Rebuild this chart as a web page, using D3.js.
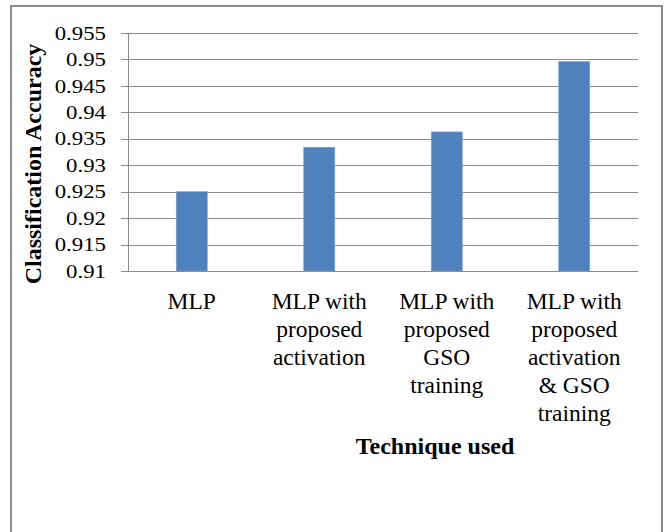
<!DOCTYPE html>
<html>
<head>
<meta charset="utf-8">
<script src="https://cdn.jsdelivr.net/npm/d3@7"></script>
<style>
body { margin: 0; background: #fff; }
</style>
</head>
<body>
<svg id="chart"></svg>
<script>
var width = 668, height = 532;
var serif = "'Liberation Serif', 'Times New Roman', serif";

// data
var categories = ["MLP", "MLP with proposed activation", "MLP with proposed GSO training", "MLP with proposed activation & GSO training"];
var categoryLines = [
	["MLP"],
	["MLP with", "proposed", "activation"],
	["MLP with", "proposed", "GSO", "training"],
	["MLP with", "proposed", "activation", "& GSO", "training"]
];
var accuracy = [0.925, 0.9334, 0.9363, 0.9496];
var yTicks = [0.91, 0.915, 0.92, 0.925, 0.93, 0.935, 0.94, 0.945, 0.95, 0.955];
var yTickLabels = ["0.91", "0.915", "0.92", "0.925", "0.93", "0.935", "0.94", "0.945", "0.95", "0.955"];

var plotLeft = 128, plotRight = 638, plotTop = 33, plotBottom = 271;

var svg = d3.select("#chart")
	.attr("width", width)
	.attr("height", height)
	.style("font-family", serif);

// chart border
svg.append("rect")
	.attr("x", 11).attr("y", 6)
	.attr("width", 651).attr("height", 540)
	.style("fill", "none")
	.style("stroke", "#8c8c8c")
	.style("stroke-width", 2);

var xScale = d3.scaleBand()
	.domain(categories)
	.range([plotLeft, plotRight])
	.paddingInner(0.757)
	.paddingOuter(0.3785);

var yScale = d3.scaleLinear()
	.domain([0.91, 0.955])
	.range([plotBottom, plotTop]);

// gridlines
svg.append("g").selectAll("line")
	.data(yTicks)
	.enter().append("line")
	.attr("x1", plotLeft - 7)
	.attr("x2", plotRight)
	.attr("y1", function(d){return Math.round(yScale(d)) + 0.5})
	.attr("y2", function(d){return Math.round(yScale(d)) + 0.5})
	.style("stroke", "#8a8a8a")
	.style("stroke-width", 1);

// y axis line
svg.append("line")
	.attr("x1", plotLeft + 0.5).attr("x2", plotLeft + 0.5)
	.attr("y1", yScale(0.955)).attr("y2", yScale(0.91))
	.style("stroke", "#8a8a8a");

// tick labels
svg.append("g").selectAll("text")
	.data(yTicks)
	.enter().append("text")
	.attr("transform", function(d){return "translate(106," + yScale(d) + ") scale(1.2,1)"})
	.attr("text-anchor", "end")
	.attr("dy", "0.35em")
	.style("font-family", serif)
	.style("font-size", "19px")
	.text(function(d, i){return yTickLabels[i]});

// bars
svg.append("g").selectAll("rect")
	.data(accuracy)
	.enter().append("rect")
	.attr("x", function(d, i){return xScale(categories[i])})
	.attr("width", xScale.bandwidth())
	.attr("y", function(d){return yScale(d)})
	.attr("height", function(d){return yScale(0.91) - yScale(d)})
	.style("fill", "#4f81bd")
	.style("stroke", "#7a9fcf")
	.style("stroke-width", 0.6);

// category labels
var catG = svg.append("g").selectAll("text")
	.data(categoryLines)
	.enter().append("text")
	.attr("text-anchor", "middle")
	.style("font-family", serif)
	.style("font-size", "23.5px")
	.attr("x", function(d, i){return xScale(categories[i]) + xScale.bandwidth()/2});

catG.selectAll("tspan")
	.data(function(d){return d})
	.enter().append("tspan")
	.attr("x", function(){return d3.select(this.parentNode).attr("x")})
	.attr("y", function(d, j){return 309 + j*28})
	.text(function(d){return d});

// axis titles
svg.append("text")
	.attr("x", 435).attr("y", 454)
	.attr("text-anchor", "middle")
	.style("font-family", serif)
	.style("font-size", "24px")
	.style("font-weight", "bold")
	.text("Technique used");

svg.append("text")
	.attr("transform", "translate(41,164) rotate(-90)")
	.attr("text-anchor", "middle")
	.style("font-family", serif)
	.style("font-size", "24px")
	.style("font-weight", "bold")
	.text("Classification Accuracy");
</script>
</body>
</html>
